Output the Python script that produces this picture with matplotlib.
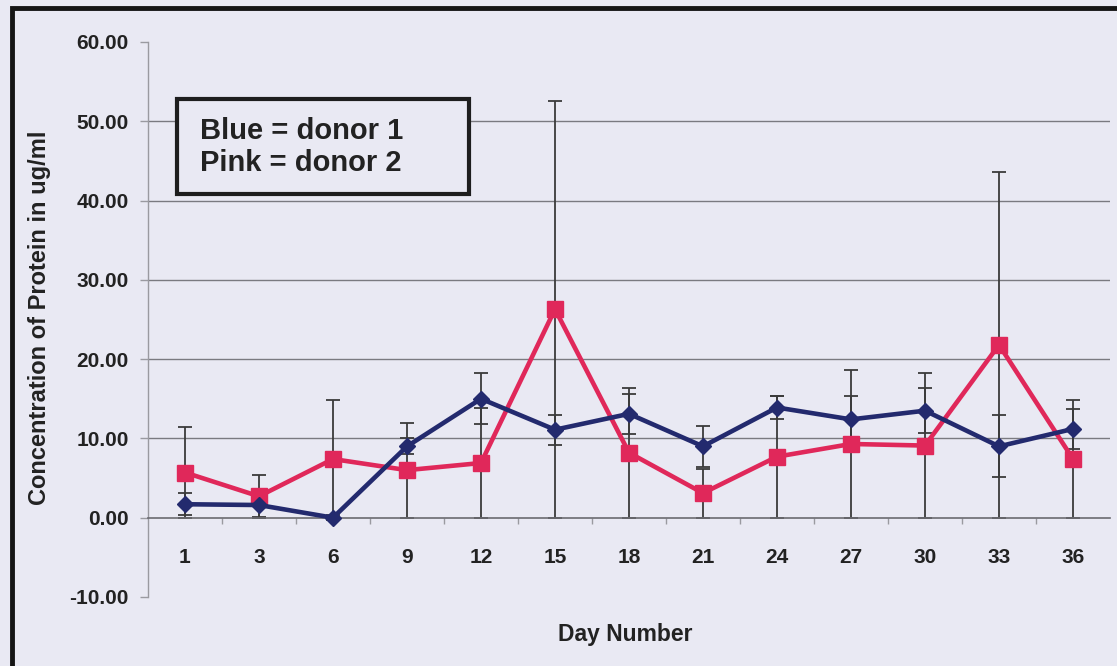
import numpy as np
import matplotlib.pyplot as plt
from matplotlib.patches import Rectangle

plt.rcParams['font.family'] = ['Liberation Sans', 'DejaVu Sans']
plt.rcParams['font.weight'] = 'bold'

days = ['1', '3', '6', '9', '12', '15', '18', '21', '24', '27', '30', '33', '36']
donor1 = [1.7, 1.6, 0.0, 9.0, 15.0, 11.1, 13.1, 9.0, 13.9, 12.4, 13.5, 9.0, 11.2]
donor1_err = [1.4, 1.5, 0.3, 1.0, 3.2, 1.9, 2.5, 2.6, 1.4, 2.9, 2.8, 3.9, 2.5]
donor2 = [5.7, 2.7, 7.4, 6.0, 6.9, 26.3, 8.2, 3.1, 7.7, 9.3, 9.1, 21.8, 7.4]
donor2_err = [5.7, 2.7, 7.4, 6.0, 6.9, 26.3, 8.2, 3.1, 7.7, 9.3, 9.1, 21.8, 7.4]
y_ticks = [-10, 0, 10, 20, 30, 40, 50, 60]

bg = '#e9e9f3'
blue = '#232a6e'
pink = '#e0285a'

W, H = 1117, 666
fig = plt.figure(figsize=(W / 100, H / 100), dpi=100, facecolor=bg)
ax = fig.add_axes([148 / W, 1 - 597 / H, 962 / W, 555 / H])
ax.set_facecolor(bg)

x = np.arange(len(days))

# gridlines
for v in y_ticks[2:-1]:
    ax.axhline(v, color='#7a7a80', lw=1.0, zorder=1)

ax.errorbar(x, donor2, yerr=donor2_err, fmt='none', ecolor='#3a3a3a',
            elinewidth=1.3, capsize=5, capthick=1.3, zorder=2)
ax.errorbar(x, donor1, yerr=donor1_err, fmt='none', ecolor='#3a3a3a',
            elinewidth=1.3, capsize=5, capthick=1.3, zorder=2)

ax.plot(x, donor2, color=pink, lw=3.3, marker='s', ms=12, zorder=4)
ax.plot(x, donor1, color=blue, lw=3.3, marker='D', ms=8.5, zorder=5)

ax.set_xlim(-0.5, len(days) - 0.5)
ax.set_ylim(-10, 60)
ax.set_yticks(y_ticks)
ax.set_yticklabels(['%.2f' % v for v in y_ticks])
ax.set_xticks(x)
ax.set_xticklabels(days)
ax.set_xticks(x[:-1] + 0.5, minor=True)

for s in ['top', 'right']:
    ax.spines[s].set_visible(False)
ax.spines['left'].set_color('#9a9aa0')
ax.spines['left'].set_linewidth(1.0)
ax.spines['bottom'].set_position(('data', 0))
ax.spines['bottom'].set_color('#6a6a70')
ax.spines['bottom'].set_linewidth(1.2)

ax.tick_params(axis='y', length=6, width=1, color='#9a9aa0', pad=8,
               labelsize=15, labelcolor='#222222')
ax.tick_params(axis='x', which='major', length=0, pad=22,
               labelsize=15, labelcolor='#222222')
ax.tick_params(axis='x', which='minor', length=4, width=1, color='#9a9aa0')

fig.text(40 / W, 1 - 318 / H, 'Concentration of Protein in ug/ml', rotation=90,
         ha='center', va='center', fontsize=17, color='#222222')
fig.text(625 / W, 1 - 634 / H, 'Day Number', ha='center', va='center',
         fontsize=16.5, color='#222222')

# legend box
fig.add_artist(Rectangle((177 / W, 1 - 194 / H), 292 / W, 95 / H,
                         transform=fig.transFigure, facecolor=bg,
                         edgecolor='#1e1e1e', lw=3, zorder=10))
fig.text(200 / W, 1 - 131 / H, 'Blue = donor 1', ha='left', va='center',
         fontsize=21, color='#222222', zorder=11)
fig.text(200 / W, 1 - 163 / H, 'Pink = donor 2', ha='left', va='center',
         fontsize=21, color='#222222', zorder=11)

# outer frame
fig.add_artist(Rectangle((12 / W, -0.1), 1.2, 1.1 - 8 / H,
                         transform=fig.transFigure, fill=False,
                         edgecolor='#151515', lw=3.5))

fig.savefig('out.png', dpi=100, facecolor=bg)
